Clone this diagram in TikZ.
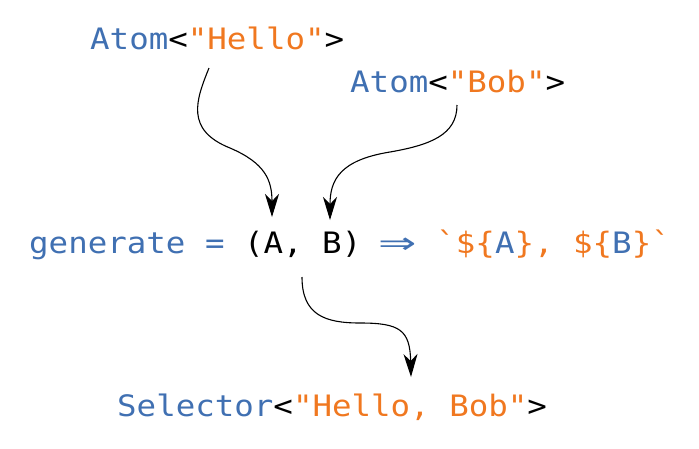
\documentclass[tikz,border=0pt]{standalone}
\usepackage{fontspec}
\setmonofont[FakeStretch=1.1]{DejaVu Sans Mono}
\newfontfamily\arrowfont{DejaVu Sans}
\usetikzlibrary{arrows.meta}
\definecolor{codeblue}{RGB}{64,112,178}
\definecolor{codeorange}{RGB}{240,120,32}
\newcommand{\fatarrow}{\makebox[39pt][c]{\scalebox{1.55}[1]{\arrowfont ⇒}}}
\tikzset{
  code/.style={anchor=base west, inner sep=0pt, font=\ttfamily\fontsize{29.5}{32}\selectfont\frenchspacing},
  flow/.style={line width=1.1pt, -{Stealth[length=23pt,width=14pt,inset=7pt]}}
}
\begin{document}
\begin{tikzpicture}[x=1pt,y=-1pt]
\useasboundingbox (0,0) rectangle (699,448);
\node[code] (hello) at (90,49) {\textcolor{codeblue}{Atom}<\textcolor{codeorange}{"Hello"}>};
\node[code] (bob) at (350,92) {\textcolor{codeblue}{Atom}<\textcolor{codeorange}{"Bob"}>};
\node[code] (gen) at (29,253) {\textcolor{codeblue}{generate = }(A, B)\hspace{-3pt} \textcolor{codeblue}{\fatarrow} \textcolor{codeorange}{`\$\{}\textcolor{codeblue}{A}\textcolor{codeorange}{\}, \$\{}\textcolor{codeblue}{B}\textcolor{codeorange}{\}`}};
\node[code] (sel) at (117,416) {\textcolor{codeblue}{Selector}<\textcolor{codeorange}{"Hello, Bob"}>};
\coordinate (s1) at (209,68);
\coordinate (tA) at (272,217);
\coordinate (s2) at (457,105);
\coordinate (tB) at (330,220);
\coordinate (s3) at (302,277);
\coordinate (tS) at (411,377);
\draw[flow] (s1) .. controls (196,100) and (185,130) .. (230,148) .. controls (265,163) and (272,180) .. (tA);
\draw[flow] (s2) .. controls (457,135) and (430,145) .. (390,152) .. controls (340,160) and (330,180) .. (tB);
\draw[flow] (s3) .. controls (302,315) and (325,323) .. (360,323) .. controls (400,323) and (410,330) .. (tS);
\end{tikzpicture}
\end{document}
